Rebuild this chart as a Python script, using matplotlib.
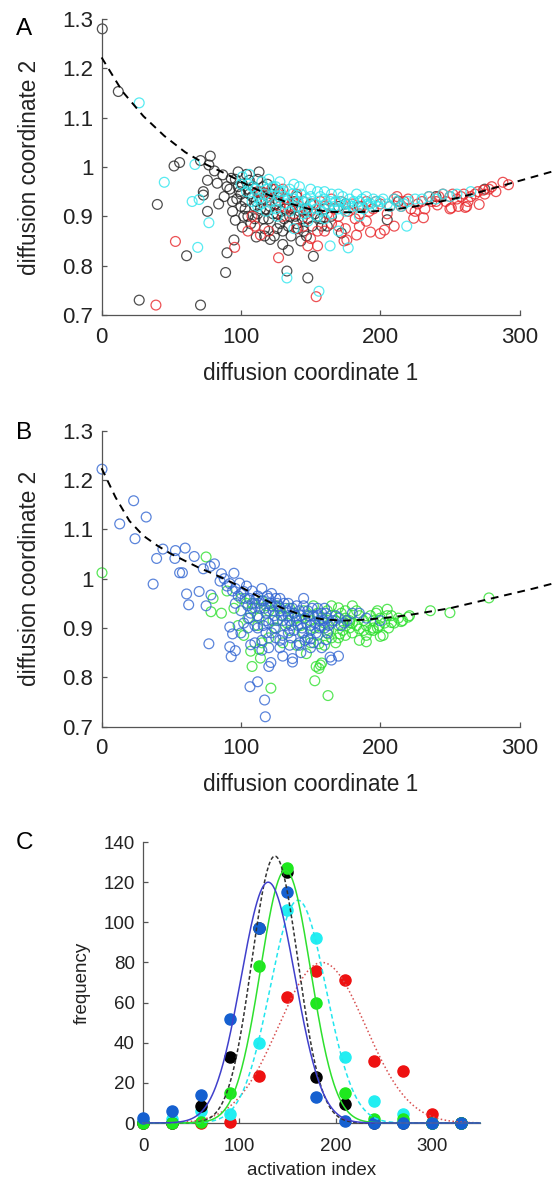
import numpy as np
import matplotlib
matplotlib.use("Agg")
import matplotlib.pyplot as plt

plt.rcParams["font.family"] = ["Liberation Sans", "DejaVu Sans"]

# ---- panel A: diffusion map, three groups (black / red / cyan) ----
a_black = [
    (0.5, 1.28), (12, 1.153), (27, 0.730), (71, 0.72), (40, 0.924), (52, 1.002), (56, 1.009),
    (71, 1.013), (78, 1.022), (76, 0.973), (73, 0.95), (73, 0.943), (76, 0.91), (84, 0.925),
    (83, 0.967), (61, 0.82), (89, 0.786), (90, 0.826), (95, 0.852), (77, 1.004), (81, 0.992),
    (87, 0.984), (93, 0.977), (94, 0.93), (94, 0.91), (96, 0.892), (101, 0.878), (111, 0.858),
    (113, 0.99), (106, 0.973), (116, 0.96), (133, 0.789), (134, 0.831), (130, 0.843), (148, 0.775),
    (152, 0.819), (121, 0.853), (172, 0.866), (205, 0.893), (98, 0.96), (100, 0.945), (103, 0.93),
    (105, 0.955), (108, 0.94), (110, 0.92), (112, 0.905), (115, 0.935), (118, 0.915), (120, 0.895),
    (122, 0.945), (125, 0.925), (126, 0.905), (128, 0.885), (130, 0.87), (132, 0.915), (135, 0.9),
    (138, 0.93), (140, 0.885), (142, 0.91), (145, 0.87), (148, 0.895), (150, 0.925), (155, 0.9),
    (158, 0.88), (160, 0.915), (165, 0.9), (170, 0.92), (102, 0.9), (107, 0.885), (117, 0.875),
    (124, 0.86), (136, 0.86), (143, 0.85), (127, 0.95), (119, 0.965), (112, 0.975), (104, 0.985),
    (98, 0.99), (140, 0.94), (175, 0.925), (185, 0.92), (213, 0.93), (240, 0.94), (275, 0.955),
    (96, 0.975), (99, 0.95), (101, 0.965), (103, 0.915), (106, 0.945), (109, 0.96), (111, 0.93),
    (113, 0.95), (114, 0.915), (116, 0.895), (119, 0.94), (121, 0.92), (123, 0.905), (124, 0.955),
    (127, 0.93), (129, 0.91), (131, 0.895), (133, 0.935), (137, 0.915), (139, 0.9), (141, 0.875),
    (144, 0.895), (146, 0.915), (147, 0.86), (151, 0.88), (153, 0.905), (157, 0.895), (162, 0.88),
    (100, 0.92), (105, 0.9), (110, 0.895), (117, 0.86), (126, 0.875), (134, 0.88), (97, 0.935),
    (90, 0.96), (88, 0.94), (92, 0.955),
]
a_red = [
    (39, 0.72), (53, 0.849), (95.5, 0.837), (127, 0.816), (154, 0.737), (148, 0.84), (155, 0.84),
    (174, 0.85), (193, 0.868), (203, 0.872), (200, 0.865), (210, 0.88), (183, 0.862), (176, 0.852),
    (231, 0.897), (224, 0.896), (251, 0.917), (256, 0.92), (262, 0.92), (271, 0.924), (288, 0.969),
    (292, 0.964), (274, 0.953), (261, 0.918), (250, 0.915), (241, 0.923), (213, 0.931), (210, 0.935),
    (212, 0.94), (105, 0.87), (110, 0.88), (114, 0.862), (115, 0.95), (120, 0.94), (125, 0.93),
    (130, 0.955), (135, 0.92), (140, 0.945), (145, 0.93), (150, 0.91), (160, 0.92), (165, 0.935),
    (170, 0.9), (180, 0.925), (185, 0.905), (190, 0.93), (195, 0.915), (200, 0.925), (205, 0.905),
    (215, 0.92), (220, 0.935), (225, 0.91), (230, 0.93), (235, 0.94), (240, 0.93), (245, 0.945),
    (250, 0.94), (255, 0.935), (260, 0.945), (265, 0.94), (270, 0.95), (278, 0.955), (283, 0.95),
    (190, 0.89), (175, 0.875), (160, 0.87), (165, 0.885), (140, 0.875), (130, 0.9), (120, 0.87),
    (118, 0.93), (122, 0.955), (127, 0.945), (132, 0.935), (137, 0.93), (142, 0.92), (147, 0.905),
    (152, 0.925), (157, 0.93), (162, 0.905), (167, 0.915), (172, 0.93), (177, 0.91), (182, 0.895),
    (187, 0.92), (192, 0.91), (197, 0.93), (207, 0.92), (217, 0.93), (222, 0.915), (227, 0.925),
    (232, 0.915), (237, 0.93), (242, 0.94), (247, 0.93), (252, 0.945), (258, 0.94), (263, 0.93),
    (268, 0.945), (275, 0.945), (280, 0.96), (138, 0.905), (128, 0.92), (118, 0.945), (112, 0.95),
    (108, 0.9), (145, 0.88), (155, 0.87), (150, 0.855), (170, 0.88), (185, 0.88),
]
a_cyan = [
    (27, 1.13), (45, 0.969), (67, 1.005), (65, 0.93), (77, 0.887), (69, 0.837), (70, 0.934),
    (133, 0.775), (156, 0.748), (164, 0.84), (177, 0.836), (219, 0.88), (101, 0.98), (106, 0.985),
    (100, 0.965), (104, 0.95), (108, 0.96), (112, 0.945), (115, 0.97), (118, 0.955), (120, 0.94),
    (123, 0.96), (125, 0.93), (128, 0.95), (130, 0.94), (132, 0.925), (135, 0.955), (138, 0.935),
    (140, 0.92), (143, 0.945), (145, 0.93), (148, 0.915), (150, 0.94), (153, 0.925), (155, 0.95),
    (158, 0.91), (160, 0.935), (163, 0.92), (165, 0.945), (168, 0.93), (170, 0.915), (173, 0.94),
    (175, 0.925), (178, 0.935), (180, 0.92), (183, 0.945), (185, 0.93), (188, 0.915), (190, 0.94),
    (193, 0.925), (195, 0.935), (198, 0.92), (200, 0.93), (205, 0.925), (210, 0.935), (215, 0.92),
    (220, 0.93), (225, 0.935), (235, 0.94), (245, 0.945), (255, 0.945), (265, 0.95), (148, 0.89),
    (138, 0.875), (126, 0.9), (160, 0.895), (170, 0.87), (118, 0.91), (112, 0.92), (185, 0.9),
    (108, 0.93), (142, 0.96), (128, 0.97), (120, 0.975), (105, 0.965), (110, 0.955), (113, 0.935),
    (117, 0.945), (122, 0.93), (127, 0.94), (131, 0.95), (134, 0.935), (137, 0.945), (141, 0.93),
    (144, 0.915), (147, 0.935), (151, 0.93), (154, 0.915), (157, 0.94), (161, 0.925), (164, 0.93),
    (167, 0.92), (171, 0.93), (174, 0.915), (177, 0.925), (181, 0.93), (184, 0.92), (187, 0.935),
    (191, 0.925), (194, 0.92), (197, 0.93), (202, 0.935), (207, 0.92), (212, 0.93), (217, 0.925),
    (230, 0.935), (240, 0.935), (250, 0.94), (115, 0.925), (125, 0.915), (135, 0.91), (145, 0.905),
    (155, 0.9), (165, 0.905), (175, 0.91), (150, 0.955), (160, 0.95), (170, 0.945), (138, 0.965),
    (125, 0.96),
]
a_curve_x = [0, 15, 30, 45, 60, 75, 90, 105, 120, 135, 150, 165, 180, 195, 210, 225, 240, 255,
             270, 285, 300, 315, 330]
a_curve_y = [1.222, 1.153, 1.103, 1.063, 1.03, 1.005, 0.985, 0.963, 0.943, 0.926, 0.914, 0.909,
             0.908, 0.91, 0.914, 0.92, 0.928, 0.937, 0.948, 0.96, 0.972, 0.984, 0.996]

# ---- panel B: diffusion map, two groups (blue / green) ----
b_blue = [
    (0.3, 1.222), (13, 1.111), (23, 1.158), (32, 1.125), (24, 1.081), (37, 0.989), (39.5, 1.041),
    (44, 1.06), (53, 1.057), (60, 1.062), (66.5, 1.045), (56, 1.012), (58, 1.012), (52.6, 1.041),
    (61, 0.969), (62.5, 0.947), (70, 0.974), (75, 0.945), (78.5, 0.967), (81, 1.03), (77, 0.868),
    (92, 0.902), (94, 0.888), (92, 0.862), (96, 0.854), (93, 0.842), (95, 1.011), (99, 0.991),
    (102, 0.974), (106.5, 0.781), (112, 0.791), (117.5, 0.72), (117, 0.754), (107, 0.866),
    (120, 0.822), (121.5, 0.83), (130, 0.843), (137, 0.838), (137, 0.831), (142, 0.865),
    (150, 0.878), (161, 0.876), (164, 0.841), (170, 0.843), (165, 0.835), (143, 0.85), (73, 1.02),
    (78, 1.025), (86, 1.01), (110, 0.87), (115, 0.875), (120, 0.86), (125, 0.88), (88, 1.0),
    (92, 0.99), (96, 0.98), (100, 0.97), (104, 0.985), (106, 0.96), (108, 0.975), (110, 0.95),
    (112, 0.965), (114, 0.94), (116, 0.955), (118, 0.93), (120, 0.96), (122, 0.945), (124, 0.925),
    (126, 0.95), (128, 0.935), (130, 0.915), (132, 0.94), (134, 0.925), (136, 0.905), (138, 0.93),
    (140, 0.915), (142, 0.935), (144, 0.9), (146, 0.92), (148, 0.935), (150, 0.905), (152, 0.925),
    (154, 0.89), (156, 0.915), (158, 0.93), (160, 0.9), (162, 0.92), (165, 0.91), (168, 0.925),
    (172, 0.905), (176, 0.915), (180, 0.93), (112, 0.9), (118, 0.89), (124, 0.9), (130, 0.885),
    (136, 0.88), (142, 0.87), (148, 0.88), (106, 0.92), (100, 0.935), (96, 0.95), (128, 0.96),
    (134, 0.95), (140, 0.945), (122, 0.97), (115, 0.98), (108, 0.94), (145, 0.96), (155, 0.94),
    (102, 0.91), (110, 0.905), (160, 0.94), (120, 0.91), (135, 0.865), (150, 0.86), (185, 0.93),
    (190, 0.92), (200, 0.915), (111, 0.96), (113, 0.95), (117, 0.94), (119, 0.965), (121, 0.95),
    (123, 0.935), (125, 0.96), (127, 0.945), (129, 0.925), (131, 0.95), (133, 0.935), (135, 0.915),
    (137, 0.94), (139, 0.925), (141, 0.905), (143, 0.925), (145, 0.945), (147, 0.91), (149, 0.925),
    (151, 0.94), (153, 0.91), (155, 0.925), (157, 0.905), (159, 0.915), (161, 0.93), (163, 0.905),
    (166, 0.915), (170, 0.92), (174, 0.91), (126, 0.915), (132, 0.905), (138, 0.895), (144, 0.89),
    (150, 0.895), (156, 0.9), (162, 0.89), (118, 0.915), (112, 0.925), (105, 0.945), (103, 0.96),
    (98, 0.965), (94, 0.975), (90, 0.985), (85, 0.995), (107, 0.93), (116, 0.905), (122, 0.89),
    (128, 0.875), (134, 0.89), (146, 0.875), (152, 0.87), (158, 0.86), (128, 0.86), (115, 0.855),
    (105, 0.9), (100, 0.89),
]
b_green = [
    (0.3, 1.012), (75, 1.044), (78.5, 0.933), (86, 0.93), (108, 0.822), (121.5, 0.778),
    (107, 0.853), (113, 0.857), (80, 0.96), (90, 0.975), (114, 0.839), (147, 0.848), (156, 0.868),
    (157, 0.825), (153, 0.793), (162.5, 0.763), (156, 0.818), (162.5, 0.888), (171, 0.888),
    (178, 0.911), (185, 0.898), (195, 0.895), (202, 0.885), (199, 0.905), (208, 0.911),
    (216, 0.915), (221, 0.925), (236, 0.935), (250, 0.931), (278, 0.961), (185, 0.875),
    (190, 0.872), (198, 0.935), (205, 0.938), (180, 0.945), (175, 0.935), (170, 0.941),
    (165, 0.945), (220, 0.922), (215, 0.913), (197, 0.93), (206, 0.9), (200, 0.883), (193, 0.896),
    (154, 0.822), (158, 0.829), (100, 0.96), (104, 0.95), (110, 0.94), (115, 0.955), (120, 0.935),
    (125, 0.945), (130, 0.925), (135, 0.94), (140, 0.92), (145, 0.935), (150, 0.915), (155, 0.93),
    (160, 0.91), (165, 0.925), (170, 0.905), (175, 0.92), (180, 0.91), (185, 0.925), (190, 0.905),
    (195, 0.915), (200, 0.92), (205, 0.925), (210, 0.91), (125, 0.9), (135, 0.895), (145, 0.89),
    (155, 0.885), (165, 0.88), (175, 0.885), (120, 0.88), (112, 0.905), (105, 0.92), (95, 0.94),
    (98, 0.905), (102, 0.885), (130, 0.87), (140, 0.865), (168, 0.87), (178, 0.9), (188, 0.895),
    (115, 0.87), (108, 0.95), (118, 0.945), (128, 0.94), (138, 0.93), (148, 0.925), (158, 0.92),
    (168, 0.915), (178, 0.915), (183, 0.935), (188, 0.915), (193, 0.925), (203, 0.91), (208, 0.925),
    (213, 0.92), (198, 0.9), (183, 0.905), (173, 0.895), (163, 0.895), (153, 0.9), (143, 0.905),
    (133, 0.91), (123, 0.915), (113, 0.92), (160, 0.865), (150, 0.87), (170, 0.88), (180, 0.89),
    (190, 0.885), (195, 0.9), (172, 0.93), (162, 0.935), (152, 0.945),
]
b_curve_x = [0, 10, 20, 30, 40, 50, 60, 70, 80, 90, 100, 115, 130, 145, 160, 175, 190, 205,
             220, 235, 250, 265, 280, 295, 310, 325, 340]
b_curve_y = [1.224, 1.165, 1.117, 1.087, 1.067, 1.05, 1.036, 1.022, 1.01, 0.997, 0.983, 0.96,
             0.94, 0.925, 0.917, 0.915, 0.917, 0.921, 0.926, 0.933, 0.94, 0.95, 0.96, 0.97,
             0.98, 0.991, 1.002]

# ---- panel C: activation index histograms with gaussian fits ----
bins = [0, 30, 60, 90, 120, 150, 180, 210, 240, 270, 300, 330]
freq_blue = [2.5, 6, 14, 52, 97, 115, 13, 1, 0, 0, 0, 0]
freq_black = [0, 0, 8.5, 33, 97, 125, 23, 9.5, 0, 0, 0, 0]
freq_green = [0, 0, 0.5, 15, 78, 127, 60, 15, 2, 2, 0, 0]
freq_cyan = [1, 2, 6, 4.5, 40, 106, 92, 33, 11, 4.5, 0, 0]
freq_red = [0, 0, 0, 0.5, 23.5, 63, 75.5, 71.5, 31, 26, 4.5, 0]

# gaussian fits: (peak height, centre, sigma)
fit_blue = (120, 130, 28)
fit_black = (133, 137, 24)
fit_green = (126, 148, 26)
fit_cyan = (111, 161, 29)
fit_red = (80, 186, 45)

SPINE = "#555555"
TXT = "#222222"


def style_axes(ax, size, xpad, ypad):
    for s in ["top", "right"]:
        ax.spines[s].set_visible(False)
    for s in ["left", "bottom"]:
        ax.spines[s].set_color(SPINE)
        ax.spines[s].set_linewidth(0.9)
    ax.tick_params(direction="in", length=3.5, width=0.9, color=SPINE,
                   labelsize=size, labelcolor=TXT)
    ax.tick_params(axis="x", pad=xpad)
    ax.tick_params(axis="y", pad=ypad)


def diffusion_panel(ax, groups, cx, cy, letter, letter_y):
    for pts, col in groups:
        xs = [p[0] for p in pts]
        ys = [p[1] for p in pts]
        ax.scatter(xs, ys, s=50, facecolors="none", edgecolors=col, linewidths=0.9,
                   alpha=0.8, clip_on=False, zorder=2)
    ax.plot(cx, cy, ls=(0, (4, 3)), color="black", lw=1.4, clip_on=False, zorder=3)
    ax.set_xlim(0, 300)
    ax.set_ylim(0.7, 1.3)
    ax.set_xticks([0, 100, 200, 300])
    ax.set_yticks([0.7, 0.8, 0.9, 1.0, 1.1, 1.2, 1.3])
    ax.set_yticklabels(["0.7", "0.8", "0.9", "1", "1.1", "1.2", "1.3"])
    style_axes(ax, 16, 8.5, 6)
    ax.set_xlabel("diffusion coordinate 1", fontsize=16.3, color=TXT, labelpad=10)
    ax.set_ylabel("diffusion coordinate 2", fontsize=16.3, color=TXT, labelpad=15)
    ax.text(-0.205, letter_y, letter, transform=ax.transAxes, fontsize=17.5,
            va="top", ha="left")


fig = plt.figure(figsize=(5.53, 11.8), dpi=100)

axA = fig.add_axes([0.1837, 0.7331, 0.7559, 0.2508])
diffusion_panel(axA, [(a_black, "#222222"), (a_red, "#e8262a"), (a_cyan, "#2ee6ee")],
                a_curve_x, a_curve_y, "A", 1.005)

axB = fig.add_axes([0.1837, 0.3842, 0.7559, 0.2508])
diffusion_panel(axB, [(b_green, "#2ee02e"), (b_blue, "#3266d2")],
                b_curve_x, b_curve_y, "B", 1.03)

axC = fig.add_axes([0.2586, 0.0483, 0.6094, 0.2381])
dots = [(freq_red, "#ee1111"), (freq_cyan, "#22eef2"), (freq_black, "#000000"),
        (freq_green, "#1ee81e"), (freq_blue, "#1560d0")]
for vals, col in dots:
    axC.plot(bins, vals, "o", color=col, ms=8, mec=col, clip_on=False, zorder=3)

xx = np.linspace(0, 350, 400)
fits = [(fit_red, "#d85050", (0, (1, 1.6))), (fit_cyan, "#22e6ee", (0, (3, 2))),
        (fit_black, "#333333", (0, (2.5, 1.5))), (fit_green, "#2ee02e", "-"),
        (fit_blue, "#4040cc", "-")]
for (amp, mu, sig), col, ls in fits:
    axC.plot(xx, amp * np.exp(-0.5 * ((xx - mu) / sig) ** 2), color=col, ls=ls, lw=1.1,
             clip_on=False, zorder=4)

axC.set_xlim(0, 350)
axC.set_ylim(0, 140)
axC.set_xticks([0, 100, 200, 300])
axC.set_yticks(range(0, 141, 20))
style_axes(axC, 13.5, 11, 6)
axC.set_xlabel("activation index", fontsize=13.5, color=TXT, labelpad=5)
axC.set_ylabel("frequency", fontsize=13.5, color=TXT, labelpad=9)
axC.text(-0.377, 1.035, "C", transform=axC.transAxes, fontsize=17.5, va="top", ha="left")

fig.savefig("out.png", dpi=100)
